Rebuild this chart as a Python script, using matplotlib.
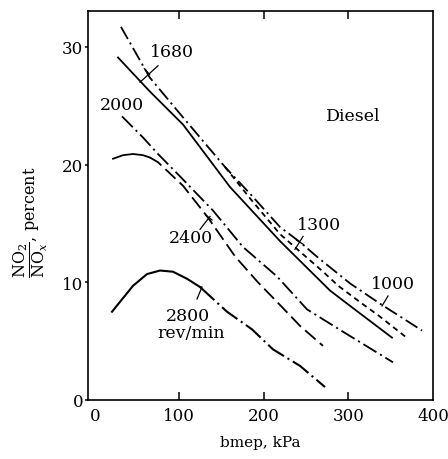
import matplotlib
matplotlib.use("Agg")
import matplotlib.pyplot as plt

# NO2/NOx ratio in diesel exhaust vs load, one curve per engine speed (rev/min)
x_1000 = [31, 65, 101, 154, 184, 219, 243, 264, 302, 337, 361, 387]
y_1000 = [31.7, 27.4, 24.3, 19.8, 17.5, 14.7, 13.4, 12.1, 9.9, 8.2, 7.1, 5.9]

x_1300 = [31, 65, 101, 154, 184, 219, 246, 270, 288, 314, 337, 367]
y_1300 = [31.7, 27.4, 24.3, 19.8, 17.1, 14.1, 12.4, 10.9, 9.7, 8.3, 7.1, 5.4]

x_1680 = [27.5, 65.3, 104.4, 159.9, 219.1, 278.2, 301.9, 351.5]
y_1680 = [29.1, 26.2, 23.4, 18.1, 13.5, 9.3, 8.0, 5.3]

x_2000 = [32.2, 57.1, 74.8, 100.8, 139.8, 175.3, 215.5, 251.0, 293.6, 352.7]
y_2000 = [24.1, 22.3, 20.9, 19.0, 16.1, 13.0, 10.5, 7.7, 5.8, 3.2]

x_2400 = [21.6, 33.4, 45.2, 57.1, 65.3, 74.8, 104.4, 133.9, 165.9, 193.0, 221.4, 242.7, 269.9]
y_2400 = [20.5, 20.8, 20.9, 20.8, 20.6, 20.2, 18.2, 15.5, 12.2, 10.0, 7.9, 6.3, 4.6]

x_2800 = [20.4, 45.2, 61.8, 77.2, 92.5, 109.1, 124.5, 156.4, 186.0, 210.8, 242.7, 272.3]
y_2800 = [7.5, 9.7, 10.7, 11.0, 10.9, 10.3, 9.6, 7.5, 6.0, 4.3, 2.9, 1.1]

x_ticks = [0, 100, 200, 300, 400]
y_ticks = [0, 10, 20, 30]

plt.rcParams['font.family'] = ['DejaVu Serif']
plt.rcParams['mathtext.fontset'] = 'dejavuserif'
plt.rcParams['lines.scale_dashes'] = False

fig = plt.figure(figsize=(4.48, 4.60), dpi=100)
ax = fig.add_axes([88 / 448, 59 / 460, 345 / 448, 389 / 460])

lw = 1.3
ax.plot(x_1000, y_1000, color='k', lw=lw, dashes=(10, 3, 1.5, 3))
ax.plot(x_1300[3:], y_1300[3:], color='k', lw=lw, dashes=(4, 3))
ax.plot(x_1680, y_1680, color='k', lw=lw)
ax.plot(x_2000, y_2000, color='k', lw=lw, dashes=(11, 3, 1.5, 3))
ax.plot(x_2400[:5], y_2400[:5], color='k', lw=lw)
ax.plot(x_2400[4:], y_2400[4:], color='k', lw=lw, dashes=(10, 4))
ax.plot(x_2800[:7], y_2800[:7], color='k', lw=1.5)
ax.plot(x_2800[6:], y_2800[6:], color='k', lw=1.5, dashes=(14, 3, 1.5, 3))

fs = 12.5
lead = dict(color='k', lw=0.9)
ax.text(91, 29.65, '1680', fontsize=fs, ha='center', va='center')
ax.plot([74.8, 53.5], [28.4, 27.0], **lead)
ax.plot([58.7, 64.9], [28.15, 27.65], **lead)
ax.text(32, 25.1, '2000', fontsize=fs, ha='center', va='center')
ax.text(306, 24.2, 'Diesel', fontsize=fs, ha='center', va='center')
ax.text(265, 14.9, '1300', fontsize=fs, ha='center', va='center')
ax.plot([246.3, 236.8], [13.9, 12.8], **lead)
ax.plot([238.7, 246.7], [13.58, 13.22], **lead)
ax.text(353, 9.86, '1000', fontsize=fs, ha='center', va='center')
ax.plot([346.8, 339.7], [8.84, 7.99], **lead)
ax.text(114, 13.8, '2400', fontsize=fs, ha='center', va='center')
ax.plot([124.5, 136.3], [14.5, 15.6], **lead)
ax.plot([131.2, 138.6], [15.7, 15.3], **lead)
ax.text(110, 7.2, '2800', fontsize=fs, ha='center', va='center')
ax.text(114, 5.7, 'rev/min', fontsize=fs, ha='center', va='center')
ax.plot([120.9, 126.8], [8.58, 9.6], **lead)

ax.set_xlim(-8, 400)
ax.set_ylim(0, 33.05)
ax.set_xticks(x_ticks)
ax.set_yticks(y_ticks)
ax.tick_params(axis='x', direction='in', top=True, length=6, width=1.1, pad=5, labelsize=12)
ax.tick_params(axis='y', direction='out', length=2.5, width=1.1, pad=1, labelsize=12)
for t in (ax.xaxis.get_major_ticks()[0], ax.xaxis.get_major_ticks()[-1]):
    t.tick1line.set_visible(False)
    t.tick2line.set_visible(False)
for s in ax.spines.values():
    s.set_linewidth(1.2)

ax.set_xlabel('bmep, kPa', fontsize=11, labelpad=8)
ax.set_ylabel(r'$\dfrac{\mathrm{NO_2}}{\mathrm{NO}_x}$, percent', fontsize=11.5)
ax.yaxis.set_label_coords(-0.11, 0.46)

fig.savefig('out.png', dpi=100)
